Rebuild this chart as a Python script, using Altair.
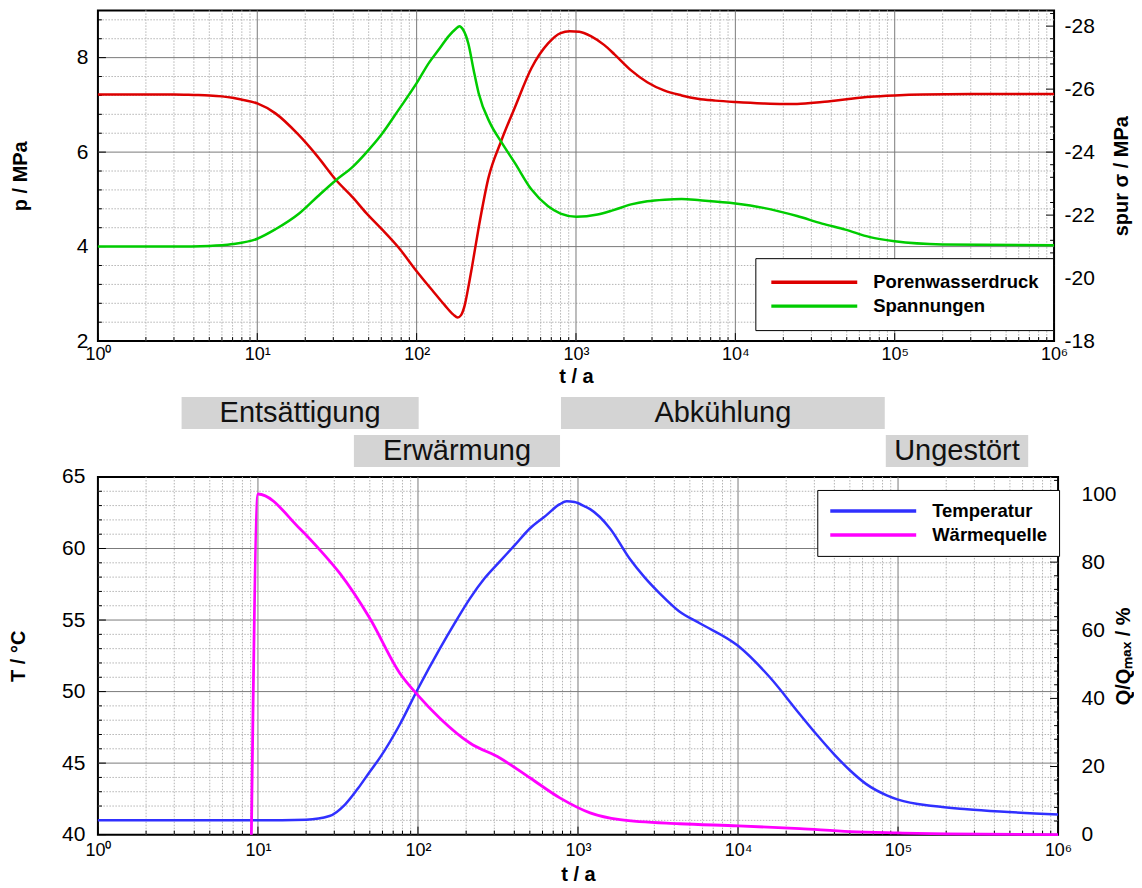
import altair as alt
import pandas as pd

FONT = "Liberation Sans"

# ---------------- data ----------------
# top panel: pore water pressure p [MPa]
p_t = [1, 2, 3, 4, 5, 6, 7, 8, 10, 13, 18, 24, 31, 40, 48, 60, 77, 100, 125, 150, 170, 181, 190,
       200, 210, 222, 245, 282, 338, 414, 526, 668, 800, 912, 1050, 1247, 1500, 1744, 2217, 2800,
       3600, 4600, 5800, 7500, 10000, 15000, 20000, 24400, 35000, 50000, 70000, 100000, 150000,
       300000, 1000000]
p_v = [7.22, 7.22, 7.22, 7.21, 7.20, 7.18, 7.15, 7.11, 7.03, 6.82, 6.38, 5.90, 5.42, 5.03, 4.72,
       4.38, 3.98, 3.48, 3.08, 2.76, 2.56, 2.50, 2.55, 2.75, 3.10, 3.55, 4.40, 5.45, 6.22, 6.95,
       7.78, 8.30, 8.52, 8.56, 8.55, 8.45, 8.27, 8.07, 7.73, 7.48, 7.30, 7.20, 7.13, 7.09, 7.06,
       7.03, 7.02, 7.02, 7.06, 7.12, 7.17, 7.20, 7.22, 7.23, 7.23]

# top panel: trace of stress [MPa]
s_t = [1, 3, 5, 7, 10, 13, 18.3, 24, 31, 40, 48, 60, 77, 100, 120, 137, 160, 175, 186, 195, 211,
       228, 245, 289, 338, 414, 526, 668, 800, 1003, 1365, 1700, 2217, 2800, 3600, 4600, 6000,
       10000, 15000, 24400, 35000, 49000, 70000, 100000, 200000, 1000000]
s_v = [-21.0, -21.0, -21.02, -21.08, -21.25, -21.55, -22.05, -22.6, -23.1, -23.55, -23.97,
       -24.55, -25.34, -26.19, -26.85, -27.24, -27.7, -27.9, -28.0, -27.9, -27.45, -26.6,
       -25.87, -24.92, -24.34, -23.65, -22.81, -22.28, -22.05, -21.95, -22.02, -22.15, -22.34,
       -22.44, -22.49, -22.51, -22.47, -22.37, -22.23, -21.97, -21.73, -21.54, -21.3, -21.17,
       -21.07, -21.04]

# bottom panel: temperature [°C]
T_t = [1, 10, 20, 28, 35, 42, 50, 58, 77, 100, 137, 170, 211, 260, 325, 400, 500, 630, 770, 850,
       950, 1100, 1190, 1585, 2100, 2600, 3250, 4300, 5800, 10000, 15800, 24400, 31000, 40000,
       50000, 63000, 85000, 100000, 166000, 270000, 434000, 1000000]
T_v = [41.0, 41.0, 41.05, 41.3, 42.1, 43.2, 44.4, 45.4, 47.7, 50.2, 53.0, 54.8, 56.5, 57.9,
       59.1, 60.2, 61.4, 62.3, 63.1, 63.3, 63.25, 62.95, 62.75, 61.4, 59.3, 58.0, 56.85, 55.6,
       54.76, 53.2, 51.0, 48.4, 47.0, 45.6, 44.5, 43.55, 42.75, 42.45, 42.0, 41.78, 41.62, 41.41]

# bottom panel: heat source Q/Qmax [%]
Q_t = [9.1, 10, 18.3, 25, 32.6, 50, 77, 100, 137, 211, 325, 500, 770, 1190, 1830, 4300, 10000,
       24400, 50000, 100000, 200000, 1000000]
Q_v = [0, 100, 89.8, 83, 76.6, 63.5, 47.4, 40.9, 34.2, 26.9, 22.5, 16.7, 10.8, 6.4, 4.4, 3.2,
       2.6, 1.75, 0.9, 0.5, 0.2, 0.0]

# phases
phase_names = ["Entsättigung", "Erwärmung", "Abkühlung", "Ungestört"]
phase_start = [3.35, 40.4, 805, 87900]
phase_end = [103, 794, 86600, 688000]
phase_row = [1, 2, 1, 2]

series_top = ["Porenwasserdruck", "Spannungen"]
series_bot = ["Temperatur", "Wärmequelle"]
colors_top = ["#dd0000", "#00cc00"]
colors_bot = ["#3030ff", "#ff00ff"]

# axis tick values
decades = [1, 10, 100, 1000, 10000, 100000, 1000000]
p_ticks = [2, 4, 6, 8]
s_ticks = [-28, -26, -24, -22, -20, -18]
T_ticks = [40, 45, 50, 55, 60, 65]
Q_ticks = [0, 20, 40, 60, 80, 100]

# minor tick / grid values
x_major = [10, 100, 1000, 10000, 100000]
x_minor = [m * 10 ** d for d in range(6) for m in range(2, 10)]
p_major = [4, 6, 8]
p_minor = [round(2 + 0.4 * i, 2) for i in range(1, 18) if round(2 + 0.4 * i, 2) not in (4.0, 6.0, 8.0)]
s_minor = [round(-18 - 0.4 * i, 2) for i in range(1, 27) if round(-18 - 0.4 * i, 2) not in s_ticks]
T_major = [45, 50, 55, 60]
T_minor = [v for v in range(41, 65) if v % 5 != 0]
Q_minor = [v for v in range(4, 105, 4) if v % 20 != 0]

# ---------------- frames ----------------
df_p = pd.DataFrame({"t": p_t, "v": p_v, "series": series_top[0]})
df_s = pd.DataFrame({"t": s_t, "v": s_v, "series": series_top[1]})
df_T = pd.DataFrame({"t": T_t, "v": T_v, "series": series_bot[0]})
df_Q = pd.DataFrame({"t": Q_t, "v": Q_v, "series": series_bot[1]})
df_phase = pd.DataFrame({"name": phase_names, "start": phase_start, "end": phase_end, "row": phase_row})
df_phase["mid"] = (df_phase["start"] * df_phase["end"]) ** 0.5

W_TOP, H_TOP = 957, 331
W_BOT, H_BOT = 961, 358
MAJ_LEN, MIN_LEN = 8, 4

x_scale = alt.Scale(type="log", domain=[1, 1000000], nice=False)
p_scale = alt.Scale(domain=[2, 9], nice=False, zero=False)
s_scale = alt.Scale(domain=[-18, -28.5], nice=False, zero=False)
T_scale = alt.Scale(domain=[40, 65], nice=False, zero=False)
Q_scale = alt.Scale(domain=[0, 105], nice=False)

MAJOR = "#7a7a7a"
MINOR = "#b4b4b4"

label_expr = "'10' + ['\u2070','\u00b9','\u00b2','\u00b3','\u2074','\u2075','\u2076'][round(log(datum.value)/LN10)]"
minus_expr = "datum.value < 0 ? '-' + abs(datum.value) : '' + datum.value"


def x_axis(label_pad, title_y):
    return alt.Axis(values=decades, labelExpr=label_expr, grid=False, ticks=False, domain=False,
                    labelFontSize=18, labelPadding=label_pad, labelFlush=False,
                    labelOverlap=False, title="t / a", titleFontSize=20, titleFontWeight="bold",
                    titleY=title_y, titleBaseline="alphabetic")


def y_axis(values, title, orient, title_x, h, label_pad):
    return alt.Axis(values=values, orient=orient, grid=False, ticks=False, domain=False,
                    labelFontSize=21, labelPadding=label_pad, labelOverlap=False, labelExpr=minus_expr,
                    title=title, titleFontSize=20, titleFontWeight="bold", titleAngle=270,
                    titleX=title_x, titleY=h / 2, titleBaseline="middle", titleAlign="center")


# every layer of a panel carries the identical axis so that they merge into one
XA_TOP = x_axis(4, 41)
XA_BOT = x_axis(7, 46)
YA_P = y_axis(p_ticks, "p / MPa", "left", -77, H_TOP, 10)
YA_S = y_axis(s_ticks, "spur \u03c3 / MPa", "right", 67, H_TOP, 10)
YA_T = y_axis(T_ticks, "T / \u00b0C", "left", -79, H_BOT, 13)
YA_Q = y_axis(Q_ticks, "Q/Q\u2098\u2090\u2093 / %", "right", 65, H_BOT, 23)


def vgrid(values, color, dash, xa):
    d = pd.DataFrame({"t": values})
    if dash:
        m = alt.Chart(d).mark_rule(color=color, strokeWidth=1, strokeDash=dash)
    else:
        m = alt.Chart(d).mark_rule(color=color, strokeWidth=1)
    return m.encode(x=alt.X("t:Q", scale=x_scale, axis=xa))


def hgrid(values, scale, color, dash, ya):
    d = pd.DataFrame({"v": values})
    if dash:
        m = alt.Chart(d).mark_rule(color=color, strokeWidth=1, strokeDash=dash)
    else:
        m = alt.Chart(d).mark_rule(color=color, strokeWidth=1)
    return m.encode(y=alt.Y("v:Q", scale=scale, axis=ya))


def xticks(values, h, length, xa):
    # inward ticks on the bottom frame
    d = pd.DataFrame({"t": values})
    return alt.Chart(d).mark_rule(color="black", strokeWidth=1).encode(
        x=alt.X("t:Q", scale=x_scale, axis=xa), y=alt.value(h), y2=alt.value(h - length))


def yticks(values, scale, x0, x1, ya):
    # inward ticks on a side frame
    d = pd.DataFrame({"v": values})
    return alt.Chart(d).mark_rule(color="black", strokeWidth=1).encode(
        y=alt.Y("v:Q", scale=scale, axis=ya), x=alt.value(x0), x2=alt.value(x1))


def legend(lx, ly, pad):
    return alt.Legend(orient="none", legendX=lx, legendY=ly, title=None, symbolType="stroke",
                      symbolSize=7396, symbolStrokeWidth=3.5, labelFontSize=18.5,
                      labelFontWeight="bold", labelFont=FONT, labelOffset=14, padding=pad,
                      strokeColor="black", fillColor="white", rowPadding=4, clipHeight=20,
                      labelLimit=400, labelColor="black")


# ---------------- top chart ----------------
top_color = alt.Color("series:N", scale=alt.Scale(domain=series_top, range=colors_top),
                      legend=legend(658, 248, 14))
red = alt.Chart(df_p).mark_line(strokeWidth=2.5, interpolate="monotone").encode(
    x=alt.X("t:Q", scale=x_scale, axis=XA_TOP),
    y=alt.Y("v:Q", scale=p_scale, axis=YA_P),
    color=top_color,
)
green = alt.Chart(df_s).mark_line(strokeWidth=2.5, interpolate="monotone").encode(
    x=alt.X("t:Q", scale=x_scale, axis=XA_TOP),
    y=alt.Y("v:Q", scale=s_scale, axis=YA_S),
    color=top_color,
)
top_inner = alt.layer(
    vgrid(x_minor, MINOR, [1.5, 1.5], XA_TOP),
    hgrid(p_minor, p_scale, MINOR, [1.5, 1.5], YA_P),
    vgrid(x_major, MAJOR, None, XA_TOP),
    hgrid(p_major, p_scale, MAJOR, None, YA_P),
    xticks(x_minor, H_TOP, MIN_LEN, XA_TOP),
    xticks(decades, H_TOP, MAJ_LEN, XA_TOP),
    yticks(p_minor, p_scale, 0, MIN_LEN, YA_P),
    yticks(p_ticks, p_scale, 0, MAJ_LEN, YA_P),
    red,
)
top_right = alt.layer(
    yticks(s_minor, s_scale, W_TOP, W_TOP - MIN_LEN, YA_S),
    yticks(s_ticks, s_scale, W_TOP, W_TOP - MAJ_LEN, YA_S),
    green,
)
top = alt.layer(top_inner, top_right).resolve_scale(y="independent").properties(width=W_TOP, height=H_TOP)

# ---------------- phase bar ----------------
rects = alt.Chart(df_phase).mark_rect(color="#d4d4d4").encode(
    x=alt.X("start:Q", scale=x_scale, axis=None),
    x2="end:Q",
    y=alt.Y("row:O", scale=alt.Scale(paddingInner=0.158, paddingOuter=0.605, align=1), axis=None),
)
texts = alt.Chart(df_phase).mark_text(fontSize=29, font=FONT, color="#111111").encode(
    x=alt.X("mid:Q", scale=x_scale, axis=None),
    y=alt.Y("row:O", axis=None),
    text="name:N",
)
phase = alt.layer(rects, texts).properties(width=W_TOP, height=116,
                                            view=alt.ViewBackground(strokeOpacity=0))

# ---------------- bottom chart ----------------
bot_color = alt.Color("series:N", scale=alt.Scale(domain=series_bot, range=colors_bot),
                      legend=legend(720, 13, 11))
blue = alt.Chart(df_T).mark_line(strokeWidth=2.5, interpolate="monotone").encode(
    x=alt.X("t:Q", scale=x_scale, axis=XA_BOT),
    y=alt.Y("v:Q", scale=T_scale, axis=YA_T),
    color=bot_color,
)
magenta = alt.Chart(df_Q).mark_line(strokeWidth=2.8, interpolate="monotone").encode(
    x=alt.X("t:Q", scale=x_scale, axis=XA_BOT),
    y=alt.Y("v:Q", scale=Q_scale, axis=YA_Q),
    color=bot_color,
)
bot_inner = alt.layer(
    vgrid(x_minor, MINOR, [1.5, 1.5], XA_BOT),
    hgrid(T_minor, T_scale, MINOR, [1.5, 1.5], YA_T),
    vgrid(x_major, MAJOR, None, XA_BOT),
    hgrid(T_major, T_scale, MAJOR, None, YA_T),
    xticks(x_minor, H_BOT, MIN_LEN, XA_BOT),
    xticks(decades, H_BOT, MAJ_LEN, XA_BOT),
    yticks(T_minor, T_scale, 0, MIN_LEN, YA_T),
    yticks(T_ticks, T_scale, 0, MAJ_LEN, YA_T),
    blue,
)
bot_right = alt.layer(
    yticks(Q_minor, Q_scale, W_BOT, W_BOT - MIN_LEN, YA_Q),
    yticks(Q_ticks, Q_scale, W_BOT, W_BOT - MAJ_LEN, YA_Q),
    magenta,
)
bottom = alt.layer(bot_inner, bot_right).resolve_scale(y="independent").properties(width=W_BOT, height=H_BOT)

chart = alt.vconcat(top, phase, bottom, spacing=10, bounds="flush").resolve_scale(
    color="independent"
).properties(
    padding={"left": 0, "top": 0, "right": 0, "bottom": 0}
).configure(font=FONT).configure_view(stroke="black", strokeWidth=2).configure_axis(
    labelFont=FONT, titleFont=FONT, labelColor="black", titleColor="black"
)

chart.save("out.html", embed_options={"renderer": "svg", "actions": False})
